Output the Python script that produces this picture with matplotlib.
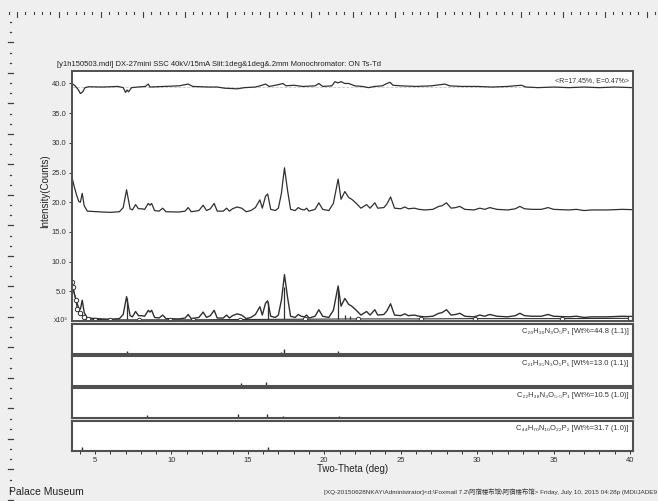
import numpy as np
import matplotlib.pyplot as plt
from matplotlib.lines import Line2D

plt.rcParams['font.family'] = ['Liberation Sans', 'DejaVu Sans']

#### data (intensity in x10^3 counts)
two_theta = [3.5, 3.65, 3.8, 3.95, 4.05, 4.17, 4.3, 4.5, 5.5, 6.0, 6.6, 6.85, 7.07, 7.3, 7.45,
             7.66, 7.85, 8.05, 8.25, 8.49, 8.6, 8.71, 8.9, 9.2, 9.43, 9.65, 10.5, 10.9, 11.1,
             11.3, 11.8, 12.08, 12.3, 12.55, 12.8, 13.0, 13.4, 13.61, 13.8, 14.0, 14.3, 14.6,
             14.9, 15.2, 15.5, 15.79, 15.95, 16.16, 16.3, 16.5, 16.8, 17.0, 17.2, 17.4, 17.6,
             17.8, 18.1, 18.3, 18.5, 18.7, 18.85, 19.0, 19.4, 19.65, 19.9, 20.3, 20.6, 20.91,
             21.1, 21.35, 21.6, 21.8, 22.1, 22.4, 22.77, 23.0, 23.31, 23.5, 23.9, 24.1, 24.34,
             24.6, 25.0, 25.27, 25.5, 25.9, 26.2, 26.6, 27.1, 27.5, 27.7, 28.0, 28.3, 28.6,
             28.87, 29.2, 29.8, 30.18, 30.5, 30.83, 31.3, 32.0, 32.5, 32.8, 33.1, 33.6, 34.2,
             34.65, 35.0, 36.0, 36.5, 37.0, 37.5, 38.5, 39.5, 40.2]
counts = [6.2, 4.6, 3.2, 2.1, 2.0, 3.5, 1.4, 0.5, 0.35, 0.3, 0.4, 1.1, 4.1, 0.9, 0.7,
          1.6, 0.9, 0.9, 0.8, 1.8, 1.5, 1.8, 0.6, 0.5, 1.0, 0.4, 0.35, 0.5, 1.1,
          0.4, 0.6, 1.5, 0.6, 0.9, 1.8, 0.5, 0.5, 1.0, 0.5, 0.9, 1.2, 1.0,
          0.4, 0.6, 1.1, 2.4, 1.0, 3.0, 3.4, 0.8, 0.6, 1.0, 3.5, 7.8, 4.0,
          0.8, 0.6, 1.1, 0.8, 0.7, 1.0, 0.5, 0.8, 1.9, 0.8, 0.6, 1.8, 5.9,
          2.5, 3.8, 2.8, 2.5, 1.8, 1.0, 1.6, 1.0, 1.9, 1.0, 1.1, 1.7, 2.9,
          1.0, 0.9, 1.2, 0.9, 1.0, 0.8, 0.7, 0.8, 1.3, 1.4, 1.9, 1.0, 1.1,
          1.3, 0.8, 0.7, 1.0, 0.8, 1.1, 0.8, 0.7, 0.9, 1.3, 0.9, 0.8, 0.8,
          1.1, 0.8, 0.7, 0.8, 0.6, 0.7, 0.7, 0.8, 0.75]
calc_shift = 18.0

diff_x = [3.5, 3.7, 3.9, 4.05, 4.2, 4.35, 4.6, 5.5, 6.5, 6.85, 7.0, 7.1, 7.2, 7.4, 7.8, 8.3,
          8.49, 8.6, 9.5, 10.5, 11.1, 11.4, 12.5, 13.0, 13.5, 14.3, 14.8, 15.5, 15.8, 16.16,
          16.4, 17.0, 17.3, 17.5, 18.0, 18.6, 19.4, 19.65, 19.9, 20.5, 20.7, 20.9, 21.1,
          21.35, 21.6, 22.0, 22.5, 22.9, 23.3, 23.8, 24.1, 24.3, 24.5, 25.0, 26.0, 27.0,
          27.9, 28.2, 29.0, 30.0, 31.0, 32.0, 32.9, 33.2, 34.0, 35.0, 36.0, 37.0, 38.0,
          39.0, 40.2]
diff_y = [40.0, 39.6, 39.0, 38.3, 38.6, 39.3, 39.45, 39.4, 39.5, 39.3, 38.5, 38.9, 38.6,
          39.3, 39.4, 39.5, 39.9, 39.4, 39.5, 39.6, 39.9, 39.5, 39.4, 39.4, 39.2, 39.1, 39.3,
          39.4, 39.6, 39.9, 39.5, 39.8, 40.0, 39.6, 39.7, 39.5, 39.6, 40.0, 39.5, 39.6, 40.3,
          40.1, 40.3, 40.0, 40.0, 39.6, 39.5, 39.3, 39.5, 39.6, 40.0, 40.2, 39.7, 39.6, 39.5,
          39.6, 39.9, 39.6, 39.5, 39.5, 39.4, 39.5, 39.7, 39.4, 39.3, 39.4, 39.3, 39.4, 39.3,
          39.4, 39.3]
diff_zero = 39.45

bkg_x = [3.5, 3.55, 3.76, 3.84, 4.02, 4.3, 4.56, 5.0, 5.98, 7.9, 9.9, 11.43, 14.48, 18.73,
         22.2, 26.3, 29.85, 35.54, 40.0]
bkg_y = [6.6, 5.8, 3.5, 2.0, 1.3, 0.7, 0.35, 0.25, 0.2, 0.2, 0.2, 0.2, 0.25, 0.3,
         0.35, 0.35, 0.4, 0.4, 0.45]

spike_x = [7.07, 16.3, 17.4, 20.91, 21.35, 21.7]
spike_y = [3.9, 3.2, 5.8, 5.2, 1.0, 0.9]

phase_names = ['C₂₀H₃₀N₃O₅P₁', 'C₂₁H₃₅N₃O₅P₁', 'C₂₂H₃₈N₃O₅.₅P₁', 'C₄₄H₇₀N₁₀O₂₂P₂']
phase_wt = [44.8, 13.0, 10.5, 31.7]
phase_err = [1.1, 1.1, 1.0, 1.0]
stick_pos = [
    [7.07, 7.66, 12.08, 12.8, 15.79, 17.16, 17.4, 20.91, 21.35, 23.31],
    [14.53, 16.16, 17.16, 19.43, 22.29, 23.46],
    [8.38, 9.1, 9.84, 14.05, 14.33, 16.23, 17.32, 19.72, 20.94, 21.35, 21.89, 22.55, 24.34],
    [4.17, 8.49, 8.71, 9.14, 9.53, 11.1, 16.33, 20.94, 21.35, 22.07, 24.4],
]
stick_int = [
    [0.11, 0.04, 0.04, 0.04, 0.05, 0.06, 0.18, 0.11, 0.04, 0.03],
    [0.10, 0.14, 0.05, 0.05, 0.04, 0.03],
    [0.10, 0.04, 0.05, 0.04, 0.14, 0.14, 0.07, 0.04, 0.07, 0.05, 0.04, 0.04, 0.05],
    [0.14, 0.04, 0.05, 0.03, 0.03, 0.03, 0.14, 0.04, 0.04, 0.04, 0.03],
]

x_major = [5, 10, 15, 20, 25, 30, 35, 40]
y_major = [5, 10, 15, 20, 25, 30, 35, 40]

W, H = 658, 501
ink = '#303030'
frame = '#505050'


def box(left, top, right, bottom):
    return [left / W, 1 - bottom / H, (right - left) / W, (bottom - top) / H]


fig = plt.figure(figsize=(W / 100, H / 100), dpi=100, facecolor='#efefef')

# screen rulers along the top and left edge
deco = fig.add_axes([0, 0, 1, 1], zorder=-5)
deco.set_xlim(0, W)
deco.set_ylim(H, 0)
deco.axis('off')
for k, xx in enumerate(np.arange(8.5, W, 8.4)):
    big = (k - 6) % 5 == 0
    deco.add_line(Line2D([xx, xx], [12, 17 if big else 14], color='#404040', lw=0.8))
for k, yy in enumerate(np.arange(22, H, 10.17)):
    big = (k - 5) % 3 == 0
    deco.add_line(Line2D([8 if big else 10, 13 if big else 11.2], [yy, yy], color='#404040', lw=0.9))

# main pattern window
ax = fig.add_axes(box(72, 71, 633, 321))
ax.set_facecolor('white')
ax.plot(diff_x, diff_y, color=ink, lw=0.9)
ax.axhline(diff_zero, color='#c8c8c8', lw=0.6, ls='--', zorder=0)
ax.plot(two_theta, np.array(counts) + calc_shift, color=ink, lw=0.9)
ax.plot(two_theta, counts, color=ink, lw=1.0)
ax.vlines(spike_x, 0.3, spike_y, color=ink, lw=0.9)
ax.plot(bkg_x, bkg_y, color=ink, lw=0.8, marker='o', ms=3.2, mfc='white', mec=ink, mew=0.7)
ax.set_xlim(3.5, 40.2)
ax.set_ylim(0, 42.1)
ax.set_xticks([])
ax.set_yticks(y_major)
ax.set_yticklabels(['%.1f' % v for v in y_major])
ax.tick_params(axis='y', direction='out', length=2.5, width=0.7, pad=1.5,
               labelsize=5.5, labelcolor='#333333', color='#333333')
for s in ax.spines.values():
    s.set_color(frame)
    s.set_linewidth(1.4)
ax.text(0.992, 0.975, '<R=17.45%, E=0.47%>', transform=ax.transAxes, ha='right', va='top',
        fontsize=5, color='#333333')

# reference stick patterns, one window per phase
tops = [324, 356, 388, 421]
for i in range(4):
    p = fig.add_axes(box(72, tops[i], 633, tops[i] + 30))
    p.set_facecolor('white')
    p.vlines(stick_pos[i], 0, stick_int[i], color=ink, lw=1.0)
    p.set_xlim(3.5, 40.2)
    p.set_ylim(0, 1)
    p.set_yticks([])
    for s in p.spines.values():
        s.set_color(frame)
        s.set_linewidth(1.5)
    label = '%s [Wt%%=%.1f (%.1f)]' % (phase_names[i], phase_wt[i], phase_err[i])
    p.text(0.992, 0.88, label, transform=p.transAxes, ha='right', va='top', fontsize=5.4,
           color='#333333')
    if i < 3:
        p.set_xticks([])
    else:
        p.set_xticks(x_major)
        p.set_xticks(np.arange(4, 41, 1), minor=True)
        p.tick_params(axis='x', which='both', direction='out', length=2.5, width=0.7,
                      pad=2, labelsize=5.5, labelcolor='#333333', color='#333333')
        p.tick_params(axis='x', which='minor', length=1.8)

title = ('[y1h150503.mdi] DX-27mini SSC 40kV/15mA Slit:1deg&1deg&.2mm '
         'Monochromator: ON Ts-Td')
fig.text(57 / W, 1 - 65 / H, title, fontsize=5.5, va='center', ha='left', color='#222222')
fig.text(45 / W, 1 - 191 / H, 'Intensity(Counts)', rotation=90, fontsize=7,
         ha='center', va='center', color='#222222')
fig.text(68 / W, 1 - 321 / H, 'x10³', fontsize=5, ha='right', va='center', color='#333333')
fig.text(353 / W, 1 - 469 / H, 'Two-Theta (deg)', fontsize=7, ha='center', va='center',
         color='#222222')
fig.text(9 / W, 1 - 492 / H, 'Palace Museum', fontsize=7.5, ha='left', va='center',
         color='#222222')
footer = ('[XQ-20150628NKAY\\Administrator]<d:\\Foxmail 7.2\\阿宿楼布馆\\阿宿楼布馆> '
          'Friday, July 10, 2015 04:28p (MDI/JADE9')
fig.text(657 / W, 1 - 492 / H, footer, fontsize=4.6, ha='right', va='center', color='#333333',
         family=['Liberation Sans', 'Noto Sans CJK SC', 'DejaVu Sans'])

fig.savefig('out.png', dpi=100, facecolor=fig.get_facecolor())
